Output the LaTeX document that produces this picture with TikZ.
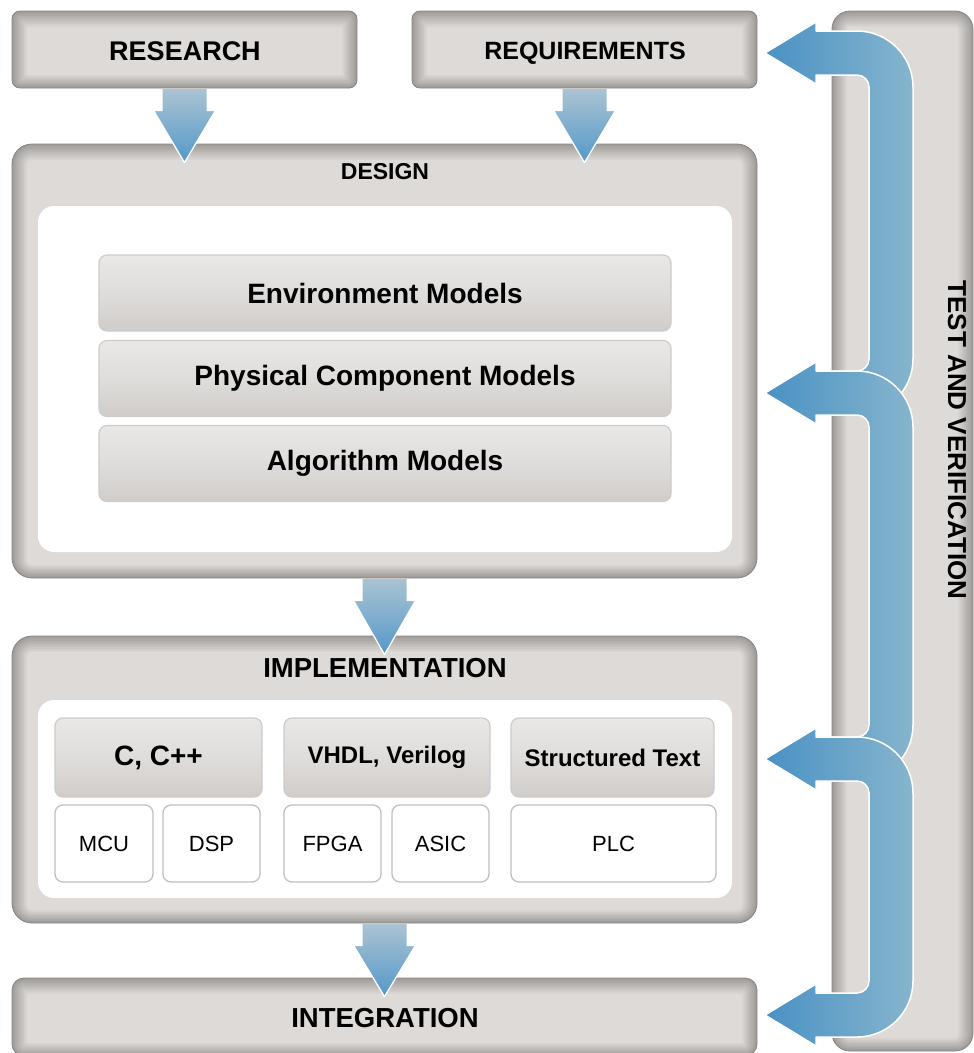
\documentclass[tikz,border=0pt]{standalone}
\usepackage{fontspec}
\setmainfont{Liberation Sans}
\usetikzlibrary{calc}
\definecolor{gEdge}{RGB}{160,156,153}
\definecolor{gCen}{RGB}{221,218,215}
\definecolor{gLine}{RGB}{135,132,129}
\definecolor{hTop}{RGB}{233,232,230}
\definecolor{hMid}{RGB}{223,221,219}
\definecolor{hBot}{RGB}{208,204,201}
\definecolor{hLine}{RGB}{206,203,200}
\definecolor{sLine}{RGB}{192,192,192}
\definecolor{arrowL}{RGB}{74,145,196}
\definecolor{arrowR}{RGB}{134,181,205}
\definecolor{dTop}{RGB}{170,195,210}
\definecolor{dBot}{RGB}{84,152,201}
\tikzset{
  gbox/.style={draw=gLine, line width=0.8pt, rounded corners=#1pt, fill=gEdge, inner sep=0pt,
    path picture={
      \foreach \i in {1,...,10}{
        \pgfmathtruncatemacro\p{\i*10}
        \pgfmathsetmacro\rr{max(#1-\i*1.5,1)}
        \fill[gCen!\p!gEdge, rounded corners=\rr pt]
          ([shift={(\i*1.5pt,-\i*1.6pt)}]path picture bounding box.north west) rectangle
          ([shift={(-\i*1.5pt,\i*1.3pt)}]path picture bounding box.south east);
      }}},
  wpanel/.style={rounded corners=16pt, fill=white, inner sep=0pt},
  hbar/.style={rounded corners=8pt, draw=hLine, line width=1.2pt, top color=hTop, bottom color=hBot, middle color=hMid, inner sep=0pt},
  sbox/.style={rounded corners=8pt, draw=sLine, line width=1.3pt, fill=white, inner sep=0pt, minimum height=77pt, font=\fontsize{22}{24}\selectfont},
  tvarr/.style={left color=arrowL, right color=arrowR, draw=white, line width=1.5pt, line join=round},
  darrfill/.style={top color=dTop, bottom color=dBot},
  darrline/.style={draw=white, line width=1.3pt, line join=round},
  bigfont/.style={font=\bfseries\fontsize{#1}{#1}\selectfont}
}
\newcommand\darrow[2]{%
  \shade[darrfill] let \p1=(#1.south), \p2=(#2.north) in
    (\x1-22pt,\y1-0.6pt) -- (\x1+22pt,\y1-0.6pt) -- (\x1+22pt,\y1-22pt) -- (\x1+31pt,\y1-22pt)
    -- (\x1,\y2-19pt) -- (\x1-31pt,\y1-22pt) -- (\x1-22pt,\y1-22pt) -- cycle;
  \draw[darrline] let \p1=(#1.south), \p2=(#2.north) in
    (\x1+22pt,\y1-22pt) -- (\x1+31pt,\y1-22pt) -- (\x1,\y2-19pt) -- (\x1-31pt,\y1-22pt) -- (\x1-22pt,\y1-22pt);
}
\newcommand\tvarrow[2]{%
  \path[tvarr] (765,#1) -- (816,{#1-31}) -- (816,{#1-22}) -- (857,{#1-22})
    .. controls (887.9,{#1-22}) and (913,{#1+3.1}) .. (913,{#1+34})
    -- (913,{#2-34})
    .. controls (913,{#2-3.1}) and (887.9,{#2+22}) .. (857,{#2+22})
    -- (816,{#2+22}) -- (816,{#2+31}) -- (765,#2) -- (816,{#2-31}) -- (816,{#2-22}) -- (857,{#2-22})
    .. controls (863.6,{#2-22}) and (869,{#2-27.4}) .. (869,{#2-34})
    -- (869,{#1+34})
    .. controls (869,{#1+27.4}) and (863.6,{#1+22}) .. (857,{#1+22})
    -- (816,{#1+22}) -- (816,{#1+31}) -- cycle;
}
\begin{document}
\begin{tikzpicture}[x=1pt,y=-1pt]
\useasboundingbox (0,0) rectangle (974,1053);
\clip (0,0) rectangle (974,1053);

% top boxes
\node[gbox=8, minimum width=345pt, minimum height=77pt] (research) at (184.5,49.5) {};
\node[bigfont=27, text depth=0pt] (researchlbl) at (185,51) {RESEARCH};
\node[gbox=8, minimum width=345pt, minimum height=77pt] (req) at (584.5,49.5) {};
\node[bigfont=25, text depth=0pt] (reqlbl) at (585,50.5) {REQUIREMENTS};

% test and verification panel
\node[gbox=18, minimum width=141pt, minimum height=1040pt] (tv) at (902.5,531) {};
\node[bigfont=26, rotate=-90] (tvlbl) at (957,440) {TEST AND VERIFICATION};

% design
\node[gbox=20, minimum width=745pt, minimum height=434pt] (design) at (384.5,361) {};
\node[bigfont=23] (designlbl) at (385,172) {DESIGN};
\node[wpanel, minimum width=694pt, minimum height=346pt] (dpanel) at (385,379) {};
\node[hbar, minimum width=572pt, minimum height=76pt, bigfont=28] (env) at (385,293) {Environment Models};
\node[hbar, minimum width=572pt, minimum height=76pt, bigfont=28] (phys) at (385,378.5) {Physical Component Models};
\node[hbar, minimum width=572pt, minimum height=76pt, bigfont=28] (algo) at (385,463.5) {Algorithm Models};

% implementation
\node[gbox=20, minimum width=745pt, minimum height=287pt] (impl) at (384.5,779.5) {};
\node[bigfont=27.5] (impllbl) at (385,668) {IMPLEMENTATION};
\node[wpanel, minimum width=694pt, minimum height=198pt] (ipanel) at (385,799) {};
\node[hbar, minimum width=207pt, minimum height=79pt, bigfont=28] (cpp) at (158.5,757.5) {C, C++};
\node[hbar, minimum width=206pt, minimum height=79pt, bigfont=24] (vhdl) at (387,757.5) {VHDL, Verilog};
\node[hbar, minimum width=203pt, minimum height=79pt, bigfont=24] (st) at (612.5,757.5) {Structured Text};
\node[sbox, minimum width=98pt] (mcu) at (104,843.5) {MCU};
\node[sbox, minimum width=97pt] (dsp) at (211.5,843.5) {DSP};
\node[sbox, minimum width=97pt] (fpga) at (332.5,843.5) {FPGA};
\node[sbox, minimum width=97pt] (asic) at (440.5,843.5) {ASIC};
\node[sbox, minimum width=205pt] (plc) at (613.5,843.5) {PLC};

% integration
\node[gbox=12, minimum width=745pt, minimum height=78pt] (integ) at (384.5,1017) {};
\node[bigfont=27.5] (integlbl) at (385,1018) {INTEGRATION};

% downward arrows
\darrow{research}{design}
\darrow{req}{design}
\darrow{design}{impl}
\darrow{impl}{integ}

% feedback arrows
\tvarrow{53}{393}
\tvarrow{393}{759}
\tvarrow{759}{1015}
\end{tikzpicture}
\end{document}
